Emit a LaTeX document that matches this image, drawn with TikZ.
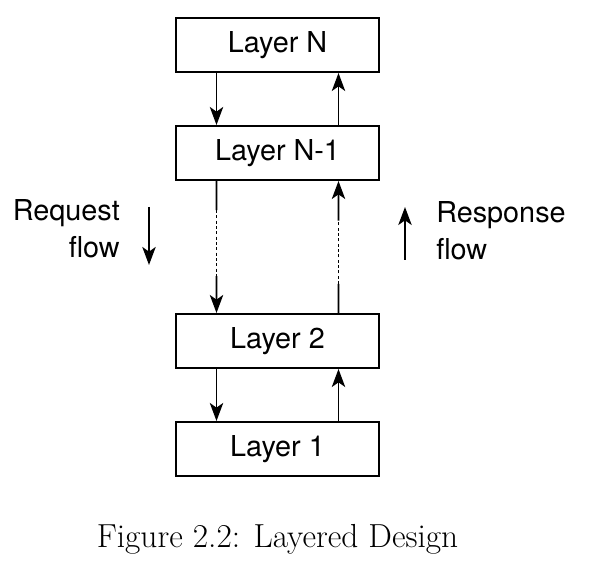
\documentclass[tikz,border=0pt]{standalone}
\usepackage{fontspec}
\newfontfamily\heros{TeX Gyre Heros}
\usetikzlibrary{calc,arrows.meta}
\tikzset{
	layer/.style={draw, line width=1.5pt, minimum width=152.25pt, minimum height=40.5pt, inner sep=0pt, font=\heros\fontsize{21.6}{26}\selectfont},
	solidline/.style={line width=1.4pt},
	dots/.style={line width=1.4pt, dash pattern=on 2.2pt off 1.8pt},
	flow/.style={line width=1.4pt, -{Stealth[length=13.5pt,width=10pt,inset=3.5pt]}},
	lbl/.style={inner sep=0pt, font=\heros\fontsize{21.6}{27.75}\selectfont}
}

\begin{document}
\begin{tikzpicture}[x=0.75pt, y=-0.75pt]
		%%%%% START %%%%%
		
		\useasboundingbox[fill=white] (0,0) rectangle (593,580);
		
		\node[layer] (lN) at (277.5, 45) {Layer N};
		\node[layer] (lN1) at (277.5, 153) {Layer N-1};
		\node[layer] (l2) at (277.5, 341) {Layer 2};
		\node[layer] (l1) at (277.5, 449) {Layer 1};
		
		\coordinate (dn) at (216.5, 0);
		\coordinate (up) at (338.5, 0);
		
		\draw[flow] (lN.south -| dn) -- (lN1.north -| dn);
		\draw[flow] (lN1.north -| up) -- (lN.south -| up);
		
		\coordinate (d1) at ($(lN1.south -| dn)!0.22!(l2.north -| dn)$);
		\coordinate (d2) at ($(lN1.south -| dn)!0.72!(l2.north -| dn)$);
		\draw[solidline] (lN1.south -| dn) -- (d1);
		\draw[dots] (d1) -- (d2);
		\draw[flow] (d2) -- (l2.north -| dn);
		
		\coordinate (u1) at ($(l2.north -| up)!0.22!(lN1.south -| up)$);
		\coordinate (u2) at ($(l2.north -| up)!0.70!(lN1.south -| up)$);
		\draw[solidline] (l2.north -| up) -- (u1);
		\draw[dots] (u1) -- (u2);
		\draw[flow] (u2) -- (lN1.south -| up);
		
		\draw[flow] (l2.south -| dn) -- (l1.north -| dn);
		\draw[flow] (l1.north -| up) -- (l2.south -| up);
		
		\node[lbl, align=right, anchor=north east] (req) at (120, 199) {Request\\flow};
		\coordinate (reqA) at (149, 207);
		\coordinate (reqB) at (149, 265);
		\draw[flow] (reqA) -- (reqB);
		
		\node[lbl, align=left, anchor=north west] (resp) at (436, 201) {Response\\flow};
		\coordinate (respA) at (405, 260);
		\coordinate (respB) at (405, 207);
		\draw[flow] (respA) -- (respB);
		
		\node[inner sep=0pt, anchor=base, font=\fontsize{25}{30}\selectfont] (cap) at (277.5, 548) {Figure 2.2: Layered Design};
		
		%%%%% END %%%%%
\end{tikzpicture}
\end{document}
